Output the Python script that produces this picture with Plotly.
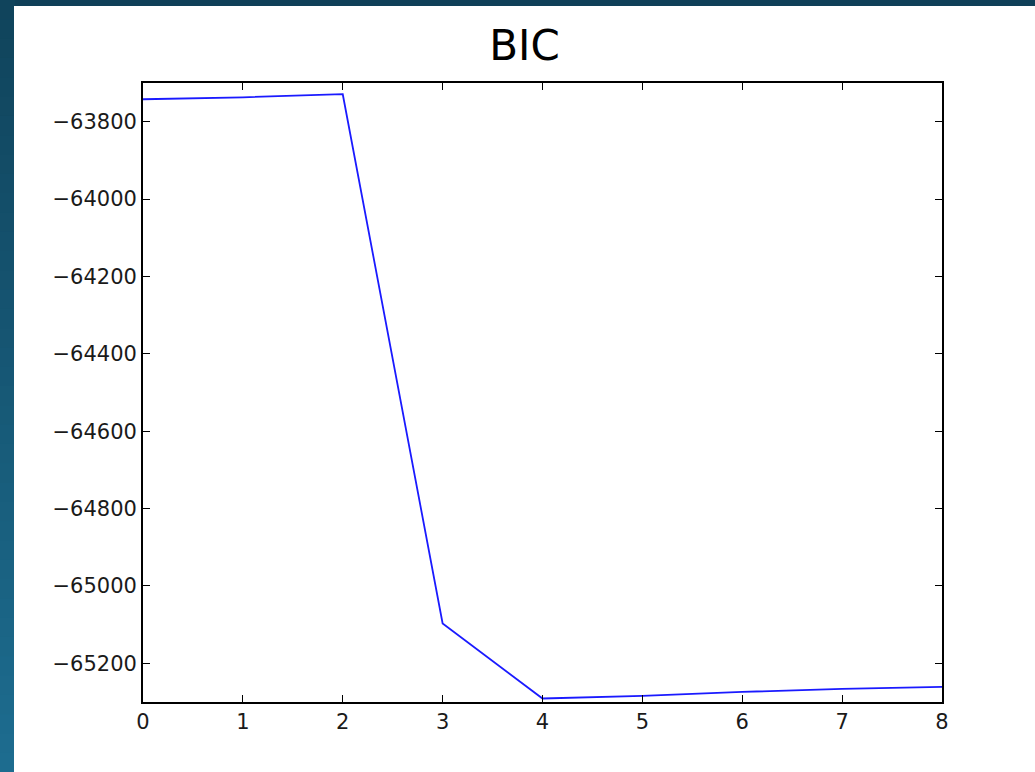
import plotly.graph_objects as go

# Data
k_values = [0, 1, 2, 3, 4, 5, 6, 7, 8]
bic_values = [-63742, -63737, -63729, -65097, -65291, -65284, -65274, -65266, -65261]
x_ticks = [0, 1, 2, 3, 4, 5, 6, 7, 8]
y_ticks = [-63800, -64000, -64200, -64400, -64600, -64800, -65000, -65200]
y_tick_labels = ["\u221263800", "\u221264000", "\u221264200", "\u221264400",
                 "\u221264600", "\u221264800", "\u221265000", "\u221265200"]
title_text = "BIC"

W, H = 1035, 772
L, R, T, B = 143, 93, 83, 70
pw, ph = W - L - R, H - T - B


def px_to_paper_x(px):
    return (px - L) / pw


def px_to_paper_y(py):
    return (H - B - py) / ph


fig = go.Figure()
fig.add_trace(go.Scatter(
    x=k_values, y=bic_values, mode="lines",
    line=dict(color="#1a1aff", width=1.8),
    showlegend=False, hoverinfo="skip",
))

shapes = []
# gradient strip on the left side (window background)
n = 40
top_c = (0x10, 0x43, 0x5b)
bot_c = (0x1d, 0x6d, 0x90)
for i in range(n):
    f = (i + 0.5) / n
    c = tuple(int(round(top_c[j] + (bot_c[j] - top_c[j]) * f)) for j in range(3))
    y0 = H * i / n
    y1 = H * (i + 1) / n + 1
    shapes.append(dict(
        type="rect", xref="paper", yref="paper", layer="below",
        x0=px_to_paper_x(-2), x1=px_to_paper_x(15),
        y0=px_to_paper_y(y1), y1=px_to_paper_y(y0),
        fillcolor="rgb(%d,%d,%d)" % c, line=dict(width=0),
    ))
# white panel
shapes.append(dict(
    type="rect", xref="paper", yref="paper", layer="below",
    x0=px_to_paper_x(14), x1=px_to_paper_x(W + 2),
    y0=px_to_paper_y(H + 2), y1=px_to_paper_y(6),
    fillcolor="white", line=dict(width=0),
))

fig.update_layout(
    width=W, height=H,
    margin=dict(l=L, r=R, t=T, b=B, pad=0),
    paper_bgcolor="#0f4058",
    plot_bgcolor="white",
    shapes=shapes,
    font=dict(family="DejaVu Sans", color="#1a1a1a", size=21),
    title=dict(text=title_text, x=524.5 / W, xanchor="center",
               y=1 - 45 / H, yanchor="middle",
               font=dict(family="DejaVu Sans", size=42, color="black")),
    xaxis=dict(
        range=[0, 8], tickvals=x_ticks, ticks="inside", ticklen=7,
        tickwidth=1, tickcolor="black", showgrid=False, zeroline=False,
        showline=True, linecolor="black", linewidth=1.8, mirror="ticks",
        tickfont=dict(size=21, family="DejaVu Sans", color="#1a1a1a"),
    ),
    yaxis=dict(
        range=[-65300, -63700], tickvals=y_ticks, ticktext=y_tick_labels,
        ticks="inside", ticklen=7, tickwidth=1, tickcolor="black",
        showgrid=False, zeroline=False, showline=True, linecolor="black",
        linewidth=1.8, mirror="ticks",
        tickfont=dict(size=21, family="DejaVu Sans", color="#1a1a1a"),
    ),
)

fig.write_html(
    "out.html",
    config={"displayModeBar": False},
    post_script="document.body.style.margin='0';document.body.style.padding='0';"
                "document.body.style.overflow='hidden';"
                "document.body.style.background='#0f4058';",
)
